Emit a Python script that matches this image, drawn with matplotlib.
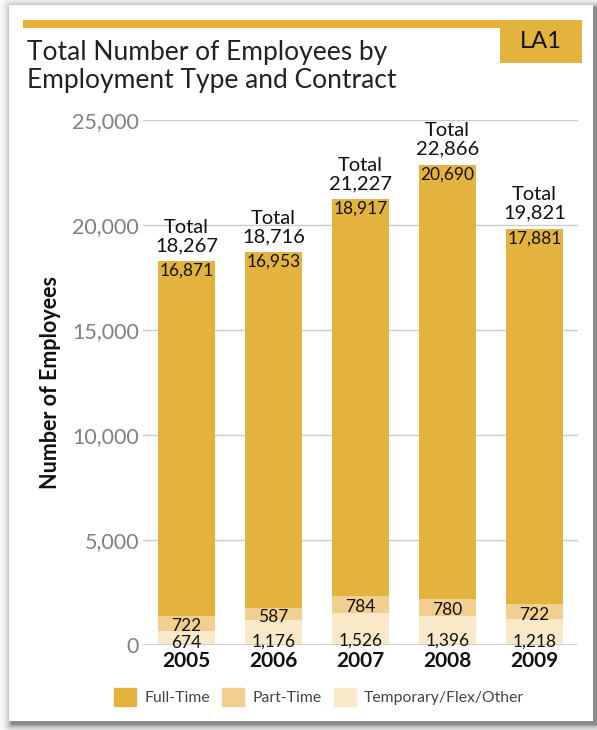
import matplotlib.pyplot as plt
import numpy as np
from matplotlib.patches import Rectangle, Patch

plt.rcParams['font.family'] = ['Lato', 'DejaVu Sans']

years = ['2005', '2006', '2007', '2008', '2009']
full_time = [16871, 16953, 18917, 20690, 17881]
part_time = [722, 587, 784, 780, 722]
temporary = [674, 1176, 1526, 1396, 1218]
totals = [18267, 18716, 21227, 22866, 19821]

c_full = '#e4b33d'
c_part = '#f1d08f'
c_temp = '#f9e9c9'

W, H = 597, 730
fig = plt.figure(figsize=(W / 100, H / 100), dpi=100)

# page background with a soft drop shadow round the white card
bg = fig.add_axes([0, 0, 1, 1], zorder=-10)
yy, xx = np.mgrid[0:H, 0:W]
x0, x1, y0, y1 = 9, 593, 5, 721
dx = np.maximum(np.maximum(x0 + 2 - xx, xx - (x1 + 3)), 0)
dy = np.maximum(np.maximum(y0 + 2 - yy, yy - (y1 + 3)), 0)
d = np.hypot(dx, dy)
shade = 1 - 0.45 * np.exp(-d / 4.0)
inside = (xx >= x0) & (xx < x1) & (yy >= y0) & (yy < y1)
shade[inside] = 1.0
bg.imshow(shade, cmap='gray', vmin=0, vmax=1, aspect='auto', interpolation='bilinear')
bg.axis('off')


def px(x, y, w, h):
    return (x / W, 1 - (y + h) / H), w / W, h / H


# header strip and LA1 tag
xy, w, h = px(23, 20, 559, 8)
fig.add_artist(Rectangle(xy, w, h, transform=fig.transFigure, color=c_full, lw=0))
xy, w, h = px(500, 20, 82, 43)
fig.add_artist(Rectangle(xy, w, h, transform=fig.transFigure, color=c_full, lw=0))
fig.text(541 / W, 1 - 42 / H, 'LA1', ha='center', va='center', fontsize=17, color='#111111')

fig.text(27 / W, 1 - 40 / H, 'Total Number of Employees by\nEmployment Type and Contract',
         ha='left', va='top', fontsize=19, color='#222222', linespacing=1.15)

ax = fig.add_axes([143 / W, 1 - 645 / H, 435 / W, 525 / H])
x = np.arange(len(years))
bw = 0.645
ax.bar(x, temporary, bw, color=c_temp, zorder=3)
ax.bar(x, part_time, bw, bottom=temporary, color=c_part, zorder=3)
bottom_full = np.array(temporary) + np.array(part_time)
ax.bar(x, full_time, bw, bottom=bottom_full, color=c_full, zorder=3)

for i in range(len(years)):
    top = bottom_full[i] + full_time[i]
    ax.annotate(f'{full_time[i]:,}', (x[i], top), xytext=(0, -1), textcoords='offset points',
                ha='center', va='top', fontsize=12.5, color='#111111', zorder=5)
    ax.annotate(f'Total\n{totals[i]:,}', (x[i], totals[i]), xytext=(0, 5), textcoords='offset points',
                ha='center', va='bottom', fontsize=14.5, color='#111111', linespacing=1.1, zorder=5)
    ax.annotate(f'{part_time[i]:,}', (x[i], temporary[i] + part_time[i] / 2), xytext=(0, -2),
                textcoords='offset points', ha='center', va='center', fontsize=12.5,
                color='#111111', zorder=5)
    ax.annotate(f'{temporary[i]:,}', (x[i], temporary[i] * 0.15), ha='center', va='center',
                fontsize=12.5, color='#111111', zorder=5)

ax.set_xlim(-0.5, 4.5)
ax.set_ylim(0, 25000)
ax.set_yticks(np.arange(0, 25001, 5000))
ax.set_yticklabels([f'{v:,}' for v in range(0, 25001, 5000)])
ax.set_xticks(x)
ax.set_xticklabels(years, fontsize=15, weight='bold', color='#111111')
ax.tick_params(axis='y', length=0, pad=3, labelsize=15.5, labelcolor='#808080')
ax.tick_params(axis='x', length=0, pad=4)
ax.grid(axis='y', color='#cccccc', lw=1, zorder=0)
for s in ax.spines.values():
    s.set_visible(False)
ax.axhline(0, color='#c4c4c4', lw=1.8, zorder=4)
ax.set_ylabel('Number of Employees', fontsize=15.5, weight='bold', color='#111111', labelpad=8)

handles = [Patch(color=c_full, label='Full-Time'),
           Patch(color=c_part, label='Part-Time'),
           Patch(color=c_temp, label='Temporary/Flex/Other')]
leg = fig.legend(handles=handles, loc='center', bbox_to_anchor=(319 / W, 1 - 697 / H), ncol=3,
                 frameon=False, fontsize=11.3, handlelength=1.4, handleheight=1.4,
                 handletextpad=0.5, columnspacing=0.8)
for t in leg.get_texts():
    t.set_color('#444444')

fig.savefig('out.png', dpi=100)
